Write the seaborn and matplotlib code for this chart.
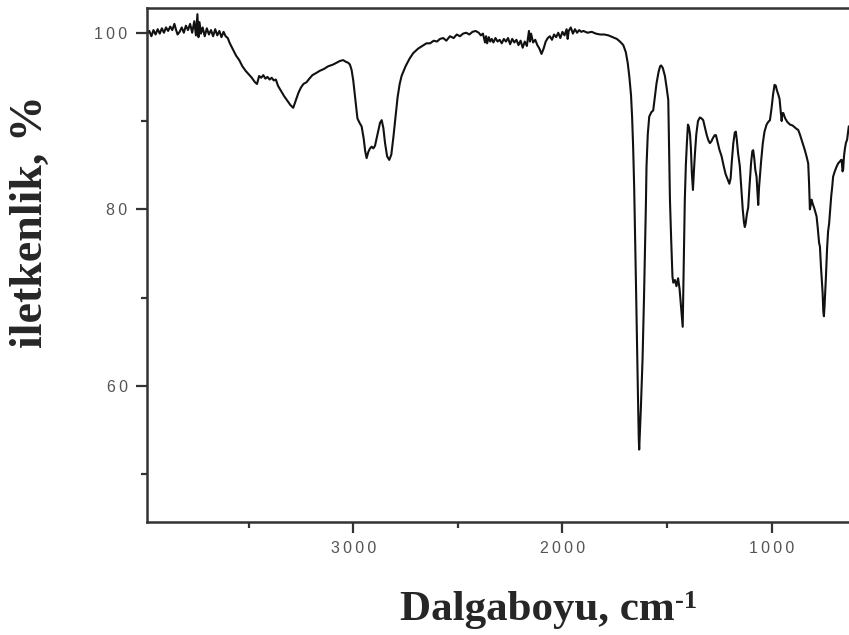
import matplotlib
matplotlib.use("Agg")
import matplotlib.pyplot as plt
import seaborn as sns
import pandas as pd

# FTIR spectrum: wavenumber (cm-1) and transmittance (%)
wavenumber = [
    3986, 3975, 3965, 3955, 3945, 3935, 3925, 3915, 3905, 3895, 3885, 3875,
    3865, 3855, 3848, 3840, 3830, 3820, 3810, 3800, 3790, 3780, 3770, 3760,
    3752, 3745, 3740, 3735, 3728, 3720, 3710, 3700, 3690, 3680, 3670, 3660,
    3650, 3640, 3630, 3620, 3610, 3600, 3590, 3575, 3560, 3545, 3530, 3515,
    3500, 3485, 3470, 3460, 3450, 3440, 3430, 3420, 3410, 3400, 3390, 3380,
    3370, 3360, 3345, 3330, 3315, 3300, 3287, 3275, 3262, 3250, 3238, 3223,
    3210, 3195, 3180, 3159, 3140, 3120, 3096, 3080, 3064, 3048, 3035, 3024,
    3016, 3008, 3000, 2990, 2980, 2970, 2960, 2950, 2943, 2936, 2928, 2920,
    2912, 2904, 2896, 2885, 2872, 2864, 2856, 2848, 2838, 2828, 2818, 2808,
    2798, 2788, 2778, 2769, 2750, 2730, 2713, 2690, 2670, 2650, 2633, 2615,
    2600, 2585, 2570, 2555, 2538, 2520, 2505, 2490, 2475, 2460, 2445, 2430,
    2415, 2400, 2390, 2380, 2370, 2365, 2360, 2352, 2345, 2338, 2330, 2320,
    2310, 2300, 2290, 2280, 2270, 2260, 2250, 2240, 2230, 2220, 2210, 2200,
    2190, 2180, 2170, 2160, 2155, 2150, 2140, 2130, 2120, 2110, 2100, 2090,
    2080, 2070, 2060, 2050, 2040, 2030, 2020, 2010, 2000, 1990, 1980, 1975,
    1970, 1960, 1950, 1940, 1930, 1920, 1910, 1900, 1880, 1860, 1840, 1820,
    1800, 1780, 1760, 1740, 1725, 1709, 1697, 1688, 1680, 1672, 1667, 1662,
    1657, 1653, 1648, 1644, 1639, 1635, 1633, 1630, 1625, 1617, 1610, 1606,
    1601, 1598, 1592, 1585, 1575, 1566, 1558, 1550, 1540, 1533, 1528, 1520,
    1510, 1502, 1494, 1490, 1486, 1480, 1474, 1470, 1462, 1455, 1447, 1440,
    1433, 1428, 1425, 1420, 1415, 1410, 1405, 1400, 1396, 1390, 1386, 1381,
    1376, 1371, 1366, 1360, 1352, 1343, 1335, 1327, 1318, 1310, 1302, 1295,
    1288, 1280, 1272, 1266, 1258, 1250, 1239, 1230, 1220, 1210, 1202, 1196,
    1190, 1183, 1176, 1171, 1166, 1160, 1152, 1145, 1138, 1132, 1128, 1124,
    1118, 1112, 1106, 1098, 1092, 1088, 1083, 1078, 1072, 1068, 1064, 1060,
    1056, 1050, 1042, 1034, 1024, 1016, 1008, 1000, 993, 986, 980, 975,
    968, 962, 956, 952, 948, 944, 935, 925, 912, 900, 890, 880,
    873, 865, 857, 849, 841, 833, 825, 821, 817, 813, 809, 803,
    797, 790, 785, 779, 773, 769, 764, 759, 756, 753, 750, 747,
    744, 740, 735, 730, 725, 720, 715, 710, 706, 698, 690, 682,
    674, 668, 665, 661, 658, 654, 650, 645, 639, 631,
]
transmittance = [
    99.9, 100.2, 99.6, 100.3, 99.8, 100.4, 99.9, 100.5, 100.0, 100.6, 100.2, 100.7,
    100.3, 101.0, 100.4, 99.8, 100.1, 100.6, 100.0, 100.8, 100.3, 101.0, 100.0, 101.3,
    99.7, 102.1, 99.5, 101.2, 99.9, 100.6, 99.6, 100.5, 99.8, 100.3, 99.6, 100.4,
    99.7, 100.2, 99.5, 100.1, 99.6, 99.4, 98.8, 98.1, 97.4, 96.9, 96.2, 95.7,
    95.3, 94.9, 94.4, 94.2, 95.1, 94.9, 95.2, 94.8, 95.0, 94.7, 94.9, 94.6,
    94.7, 94.0, 93.4, 92.8, 92.3, 91.8, 91.5, 92.3, 93.2, 93.8, 94.2, 94.4,
    94.8, 95.2, 95.4, 95.7, 95.9, 96.2, 96.4, 96.6, 96.8, 96.9, 96.7, 96.6,
    96.4, 95.8, 94.6, 92.5, 90.3, 89.8, 89.4, 88.0, 86.6, 85.8, 86.5, 86.9,
    87.1, 86.9, 87.2, 88.4, 89.8, 90.1, 89.2, 87.5, 86.0, 85.6, 86.2, 88.2,
    90.5, 92.7, 94.2, 95.1, 96.2, 97.1, 97.7, 98.2, 98.5, 98.8, 98.8, 99.1,
    99.0, 99.3, 99.4, 99.1, 99.6, 99.4, 99.8, 99.6, 99.9, 100.0, 99.8, 100.1,
    100.2, 100.0, 99.7, 99.9, 98.9, 99.6, 98.8, 99.5, 99.0, 99.3, 98.9, 99.4,
    99.0, 99.2, 98.8, 99.3, 99.0, 99.4, 98.7, 99.3, 98.9, 99.2, 98.6, 99.1,
    98.3, 99.0, 98.5, 100.2, 99.0, 99.9, 98.9, 99.2, 98.6, 98.2, 97.6, 98.2,
    99.0, 99.4, 99.6, 99.2, 99.8, 99.5, 100.0, 99.4, 100.1, 99.7, 100.4, 99.3,
    100.2, 100.6, 99.9, 100.4, 100.0, 100.3, 100.1, 100.2, 100.0, 100.1, 99.9, 99.8,
    99.8, 99.7, 99.5, 99.3, 99.0, 98.6, 97.8, 96.6, 95.0, 92.9, 90.5, 87.1,
    82.5, 77.5, 71.0, 65.5, 59.0, 54.0, 52.8, 54.5, 57.5, 63.0, 70.0, 74.7,
    80.5, 84.9, 88.5, 90.5, 91.0, 91.2, 92.8, 94.3, 95.6, 96.2, 96.3, 96.0,
    95.1, 93.8, 92.4, 87.0, 81.1, 76.5, 72.4, 71.7, 72.0, 71.3, 72.2, 71.0,
    69.0, 67.5, 66.7, 74.0, 81.0, 85.0, 87.5, 89.6, 89.4, 88.5, 87.0, 84.0,
    82.2, 84.5, 86.5, 88.5, 90.0, 90.4, 90.3, 90.1, 89.2, 88.4, 87.8, 87.5,
    87.7, 88.1, 88.4, 88.4, 87.6, 86.8, 86.0, 85.0, 84.0, 83.4, 82.9, 83.5,
    85.5, 87.5, 88.7, 88.8, 87.8, 86.3, 84.9, 82.5, 80.0, 78.5, 78.0, 78.4,
    79.5, 80.2, 82.5, 85.3, 86.6, 86.7, 85.8, 84.5, 83.7, 82.0, 80.5, 82.5,
    83.7, 85.5, 87.5, 88.8, 89.6, 89.9, 90.1, 91.5, 93.0, 94.1, 94.0, 93.5,
    93.0, 92.5, 91.0, 90.0, 90.9, 90.9, 90.3, 89.9, 89.6, 89.5, 89.3, 89.1,
    89.0, 88.5, 87.9, 87.3, 86.7, 86.0, 85.2, 83.0, 80.0, 80.5, 81.1, 80.6,
    80.2, 79.6, 79.2, 77.8, 76.2, 75.8, 73.5, 71.5, 70.5, 68.5, 67.9, 69.0,
    70.5, 72.5, 75.5, 77.5, 78.4, 80.0, 81.5, 82.6, 83.7, 84.3, 84.8, 85.2,
    85.4, 85.6, 85.6, 84.3, 84.5, 86.0, 86.8, 87.5, 87.9, 89.4,
]

y_ticks = [100, 80, 60]
y_minor = [90, 70, 50]
x_ticks = [3000, 2000, 1000]
x_minor = [3500, 2500, 1500]

df = pd.DataFrame({"wn": wavenumber, "T": transmittance})

sns.set_style("ticks")
plt.rcParams["font.family"] = ["Liberation Sans", "DejaVu Sans"]

W, H = 849, 635
fig = plt.figure(figsize=(W / 100, H / 100), dpi=100)
ax = fig.add_axes([147 / W, 1 - 522 / H, 1 - 147 / W, (522 - 8) / H])

sns.lineplot(data=df, x="wn", y="T", ax=ax, sort=False, estimator=None,
             color="#111111", linewidth=1.5)

ax.set_xlim(3986, 630)
ax.set_ylim(44.6, 102.8)

spaced = lambda v: "\u2009".join(str(v))
ax.set_yticks(y_ticks)
ax.set_yticklabels([spaced(v) for v in y_ticks])
ax.set_yticks(y_minor, minor=True)
ax.set_xticks(x_ticks)
ax.set_xticklabels([spaced(v) for v in x_ticks])
ax.set_xticks(x_minor, minor=True)

ax.tick_params(axis="both", which="major", length=8, width=1.6,
               color="#333333", labelsize=11.5, labelcolor="#555555", pad=6)
ax.tick_params(axis="both", which="minor", length=4, width=1.6,
               color="#333333")
ax.set_xlabel("")
ax.set_ylabel("")

for side in ["left", "bottom", "top"]:
    ax.spines[side].set_linewidth(1.8)
    ax.spines[side].set_color("#333333")
ax.spines["right"].set_visible(False)

serif = ["Liberation Serif", "DejaVu Serif"]
fig.text(31 / W, 1 - 222 / H, "iletkenlik, %", rotation=90, ha="center",
         va="center", fontsize=33, fontweight="bold", family=serif)

xl = fig.text(400 / W, 1 - 620 / H, "Dalgaboyu, cm", ha="left",
              va="baseline", fontsize=31, fontweight="bold", family=serif)
fig.canvas.draw()
bb = xl.get_window_extent()
fig.text(bb.x1 / W + 0.001, 1 - 608 / H, "-1", ha="left", va="baseline",
         fontsize=19, fontweight="bold", family=serif)

fig.savefig("out.png", dpi=100)
